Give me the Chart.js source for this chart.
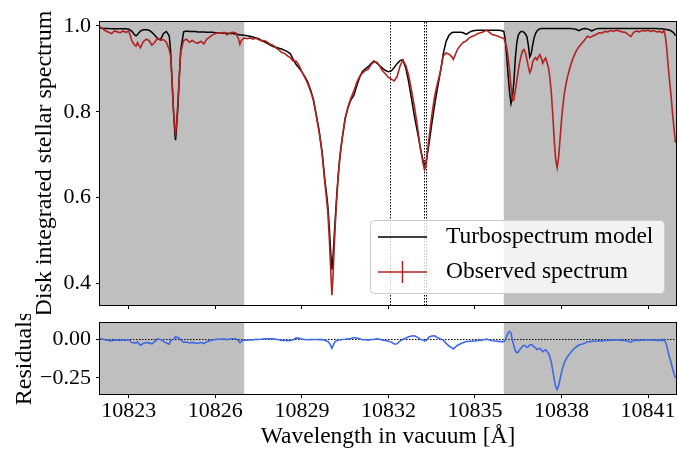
<!DOCTYPE html>
<html>
<head>
<meta charset="utf-8">
<title>He I 10830 disk-integrated spectrum</title>
<script src="https://cdn.jsdelivr.net/npm/chart.js@4.4.1/dist/chart.umd.min.js"></script>
<style>
  html, body { margin: 0; padding: 0; background: #fff; }
  #top { position: absolute; left: 0; top: 0; width: 678px; height: 314px; }
  #bottom { position: absolute; left: 0; top: 314px; width: 678px; height: 141px; }
</style>
</head>
<body>
<div id="top"><canvas id="spec"></canvas></div>
<div id="bottom"><canvas id="resid"></canvas></div>
<script>
// wavelength grid (vacuum, Angstrom)
const wavelength = [
  10822.0, 10822.1, 10822.2, 10822.3, 10822.4, 10822.5, 10822.6, 10822.7, 10822.8, 10822.9,
  10823.0, 10823.1, 10823.2, 10823.25, 10823.3, 10823.4, 10823.5, 10823.6, 10823.7, 10823.8,
  10823.9, 10824.0, 10824.1, 10824.2, 10824.3, 10824.4, 10824.45, 10824.5, 10824.55, 10824.6,
  10824.62, 10824.65, 10824.7, 10824.75, 10824.8, 10824.9, 10825.0, 10825.1, 10825.2, 10825.3,
  10825.4, 10825.5, 10825.6, 10825.7, 10825.8, 10825.9, 10826.0, 10826.1, 10826.2, 10826.3,
  10826.4, 10826.5, 10826.6, 10826.7, 10826.8, 10826.85, 10826.9, 10827.0, 10827.1, 10827.2,
  10827.3, 10827.4, 10827.5, 10827.6, 10827.7, 10827.8, 10827.9, 10828.0, 10828.1, 10828.2,
  10828.3, 10828.4, 10828.5, 10828.6, 10828.7, 10828.8, 10828.9, 10829.0, 10829.1, 10829.2,
  10829.3, 10829.4, 10829.5, 10829.6, 10829.7, 10829.8, 10829.85, 10829.9, 10829.95, 10830.0,
  10830.04, 10830.08, 10830.12, 10830.16, 10830.2, 10830.25, 10830.3, 10830.35, 10830.4, 10830.5,
  10830.6, 10830.7, 10830.8, 10830.9, 10831.0, 10831.1, 10831.2, 10831.3, 10831.4, 10831.5,
  10831.6, 10831.7, 10831.8, 10831.9, 10832.0, 10832.1, 10832.2, 10832.3, 10832.4, 10832.5,
  10832.6, 10832.7, 10832.8, 10832.9, 10833.0, 10833.1, 10833.2, 10833.25, 10833.3, 10833.4,
  10833.5, 10833.6, 10833.7, 10833.8, 10833.9, 10834.0, 10834.1, 10834.2, 10834.25, 10834.3,
  10834.4, 10834.5, 10834.6, 10834.7, 10834.8, 10834.9, 10835.0, 10835.1, 10835.2, 10835.3,
  10835.4, 10835.5, 10835.6, 10835.7, 10835.8, 10835.9, 10836.0, 10836.05, 10836.1, 10836.15,
  10836.2, 10836.25, 10836.3, 10836.35, 10836.4, 10836.45, 10836.5, 10836.55, 10836.6, 10836.65,
  10836.7, 10836.75, 10836.8, 10836.85, 10836.9, 10836.95, 10837.0, 10837.05, 10837.1, 10837.15,
  10837.2, 10837.25, 10837.3, 10837.35, 10837.4, 10837.45, 10837.5, 10837.55, 10837.6, 10837.65,
  10837.7, 10837.75, 10837.8, 10837.85, 10837.9, 10837.95, 10838.0, 10838.05, 10838.1, 10838.15,
  10838.2, 10838.3, 10838.4, 10838.5, 10838.6, 10838.7, 10838.8, 10838.9, 10839.0, 10839.05,
  10839.1, 10839.2, 10839.3, 10839.4, 10839.5, 10839.6, 10839.7, 10839.8, 10839.9, 10840.0,
  10840.1, 10840.2, 10840.3, 10840.4, 10840.5, 10840.6, 10840.7, 10840.8, 10840.9, 10841.0,
  10841.1, 10841.2, 10841.3, 10841.4, 10841.5, 10841.55, 10841.6, 10841.65, 10841.7, 10841.75,
  10841.8, 10841.85, 10841.9, 10841.95
];

// Turbospectrum model flux
const modelFlux = [
  0.995, 0.994, 0.994, 0.994, 0.993, 0.993, 0.993, 0.993, 0.993, 0.993,
  0.992, 0.988, 0.979, 0.977, 0.980, 0.988, 0.991, 0.991, 0.990, 0.985,
  0.978, 0.970, 0.968, 0.982, 0.987, 0.977, 0.940, 0.870, 0.800, 0.745,
  0.734, 0.760, 0.810, 0.880, 0.945, 0.986, 0.988, 0.987, 0.987, 0.987,
  0.986, 0.986, 0.986, 0.985, 0.985, 0.985, 0.984, 0.984, 0.984, 0.983,
  0.983, 0.982, 0.982, 0.981, 0.980, 0.979, 0.979, 0.978, 0.977, 0.976,
  0.974, 0.972, 0.970, 0.966, 0.963, 0.959, 0.955, 0.952, 0.950, 0.948,
  0.946, 0.943, 0.940, 0.935, 0.922, 0.910, 0.902, 0.893, 0.882, 0.870,
  0.851, 0.828, 0.792, 0.755, 0.706, 0.638, 0.612, 0.580, 0.530, 0.472,
  0.432, 0.462, 0.510, 0.555, 0.598, 0.645, 0.685, 0.715, 0.740, 0.785,
  0.810, 0.828, 0.838, 0.860, 0.880, 0.894, 0.900, 0.905, 0.912, 0.918,
  0.913, 0.907, 0.901, 0.896, 0.893, 0.895, 0.903, 0.912, 0.919, 0.921,
  0.902, 0.870, 0.830, 0.790, 0.755, 0.718, 0.686, 0.677, 0.682, 0.722,
  0.770, 0.815, 0.855, 0.892, 0.935, 0.964, 0.978, 0.984, 0.985, 0.985,
  0.985, 0.985, 0.984, 0.980, 0.985, 0.988, 0.989, 0.990, 0.990, 0.990,
  0.990, 0.990, 0.990, 0.990, 0.990, 0.989, 0.987, 0.968, 0.930, 0.885,
  0.845, 0.819, 0.835, 0.870, 0.925, 0.960, 0.978, 0.984, 0.987, 0.987,
  0.985, 0.981, 0.975, 0.955, 0.928, 0.935, 0.955, 0.972, 0.982, 0.988,
  0.991, 0.993, 0.994, 0.994, 0.994, 0.994, 0.994, 0.994, 0.994, 0.994,
  0.994, 0.994, 0.994, 0.994, 0.994, 0.994, 0.994, 0.994, 0.994, 0.994,
  0.994, 0.994, 0.993, 0.992, 0.989, 0.992, 0.994, 0.993, 0.990, 0.988,
  0.990, 0.993, 0.994, 0.994, 0.994, 0.994, 0.994, 0.994, 0.994, 0.994,
  0.994, 0.994, 0.994, 0.994, 0.994, 0.994, 0.994, 0.994, 0.994, 0.994,
  0.994, 0.994, 0.994, 0.993, 0.993, 0.992, 0.992, 0.991, 0.991, 0.990,
  0.988, 0.986, 0.983, 0.977
];

// observed disk-integrated flux
const observedFlux = [
  0.998, 0.993, 0.988, 0.985, 0.982, 0.988, 0.986, 0.984, 0.988, 0.985,
  0.988, 0.966, 0.955, 0.953, 0.961, 0.949, 0.963, 0.969, 0.966, 0.955,
  0.962, 0.972, 0.966, 0.968, 0.962, 0.945, 0.930, 0.865, 0.800, 0.757,
  0.750, 0.770, 0.822, 0.885, 0.940, 0.966, 0.969, 0.962, 0.966, 0.961,
  0.960, 0.964, 0.958, 0.969, 0.974, 0.979, 0.982, 0.984, 0.983, 0.985,
  0.979, 0.983, 0.985, 0.984, 0.970, 0.957, 0.966, 0.972, 0.970, 0.972,
  0.969, 0.971, 0.968, 0.965, 0.966, 0.962, 0.957, 0.955, 0.949, 0.944,
  0.938, 0.936, 0.930, 0.926, 0.918, 0.918, 0.908, 0.893, 0.880, 0.866,
  0.848, 0.826, 0.790, 0.752, 0.703, 0.632, 0.600, 0.565, 0.505, 0.430,
  0.373, 0.420, 0.485, 0.540, 0.588, 0.640, 0.680, 0.712, 0.738, 0.784,
  0.812, 0.832, 0.848, 0.868, 0.882, 0.890, 0.896, 0.899, 0.910, 0.916,
  0.915, 0.906, 0.895, 0.888, 0.880, 0.876, 0.872, 0.882, 0.906, 0.920,
  0.908, 0.885, 0.850, 0.812, 0.768, 0.718, 0.680, 0.665, 0.672, 0.735,
  0.790, 0.836, 0.866, 0.893, 0.930, 0.937, 0.934, 0.928, 0.922, 0.930,
  0.946, 0.955, 0.962, 0.965, 0.972, 0.975, 0.978, 0.982, 0.984, 0.986,
  0.990, 0.985, 0.980, 0.978, 0.976, 0.973, 0.971, 0.962, 0.950, 0.925,
  0.895, 0.858, 0.826, 0.828, 0.850, 0.872, 0.895, 0.915, 0.930, 0.942,
  0.945, 0.937, 0.922, 0.905, 0.891, 0.898, 0.916, 0.922, 0.926, 0.921,
  0.928, 0.933, 0.925, 0.913, 0.920, 0.925, 0.914, 0.902, 0.878, 0.842,
  0.790, 0.732, 0.688, 0.670, 0.694, 0.736, 0.780, 0.815, 0.843, 0.862,
  0.879, 0.904, 0.925, 0.940, 0.951, 0.959, 0.967, 0.976, 0.973, 0.975,
  0.977, 0.980, 0.984, 0.983, 0.987, 0.986, 0.989, 0.987, 0.990, 0.988,
  0.986, 0.985, 0.981, 0.975, 0.985, 0.988, 0.986, 0.989, 0.988, 0.990,
  0.987, 0.989, 0.986, 0.987, 0.984, 0.990, 0.976, 0.947, 0.906, 0.870,
  0.836, 0.796, 0.762, 0.728
];

const maskedRanges = [[10822.0, 10827.0], [10836.0, 10841.97]];
const heliumLines = [10832.057, 10833.217, 10833.306];
const xTicks = [10823, 10826, 10829, 10832, 10835, 10838, 10841];
const specTicks = [0.4, 0.6, 0.8, 1.0];
const residTicks = [-0.25, 0.0];

const xMin = 10822.0, xMax = 10841.97;
const RED = 'rgb(178,34,34)';
const BLUE = 'rgb(65,105,225)';

Chart.defaults.font.family = "'Liberation Serif', 'Times New Roman', serif";
Chart.defaults.color = '#000';

// residual = observed - model
const residual = observedFlux.map((f, i) => f - modelFlux[i]);
const pts = arr => wavelength.map((w, i) => ({x: w, y: arr[i]}));

// keep tick labels from pushing the plot area around
function noLabelPadding(s) {
  s.paddingTop = 0; s.paddingBottom = 0;
  s.paddingLeft = 0; s.paddingRight = 0;
}

function shadeMasked(chart) {
  const {ctx, chartArea: a, scales: {x}} = chart;
  ctx.save();
  ctx.fillStyle = 'rgba(128,128,128,0.5)';
  maskedRanges.forEach(([lo, hi]) => {
    const x0 = Math.max(a.left, x.getPixelForValue(lo));
    const x1 = Math.min(a.right, x.getPixelForValue(hi));
    ctx.fillRect(x0, a.top, x1 - x0, a.bottom - a.top);
  });
  ctx.restore();
}

function drawFrame(chart) {
  const {ctx, chartArea: a} = chart;
  ctx.save();
  ctx.strokeStyle = '#000';
  ctx.lineWidth = 1;
  ctx.strokeRect(Math.round(a.left) - 0.5, Math.round(a.top) - 0.5,
    Math.round(a.right - a.left) + 1, Math.round(a.bottom - a.top) + 1);
  ctx.restore();
}

function xScale(withLabels) {
  return {
    type: 'linear',
    min: xMin,
    max: xMax,
    afterBuildTicks: s => { s.ticks = xTicks.map(v => ({value: v})); },
    ticks: {
      display: withLabels, autoSkip: false, maxRotation: 0, padding: 0,
      font: {size: 22}, color: '#000', callback: v => String(v)
    },
    grid: {drawOnChartArea: false, drawTicks: true, tickLength: 4, color: '#000'},
    border: {display: false},
    title: {
      display: withLabels, text: 'Wavelength in vacuum [\u00c5]',
      font: {size: 23.5}, padding: {top: 0, bottom: 4}
    },
    afterFit: s => { noLabelPadding(s); s.height = withLabels ? 61 : 9; }
  };
}

const specPlugin = {
  id: 'specDecor',
  beforeDatasetsDraw(chart) {
    shadeMasked(chart);
    const {ctx, chartArea: a, scales: {x}} = chart;
    ctx.save();
    ctx.strokeStyle = '#000';
    ctx.lineWidth = 1;
    ctx.setLineDash([1.5, 1.5]);
    heliumLines.forEach(w => {
      const px = Math.round(x.getPixelForValue(w)) + 0.5;
      ctx.beginPath();
      ctx.moveTo(px, a.top);
      ctx.lineTo(px, a.bottom);
      ctx.stroke();
    });
    ctx.restore();
  },
  afterDatasetsDraw(chart) { drawFrame(chart); },
  afterDraw(chart) {
    const {ctx, chartArea: a} = chart;
    const w = 294, h = 73, pad = 12;
    const x0 = a.right - pad - w, y0 = a.bottom - pad - h;
    ctx.save();
    ctx.beginPath();
    ctx.roundRect(x0 + 0.5, y0 + 0.5, w, h, 4);
    ctx.fillStyle = 'rgba(255,255,255,0.8)';
    ctx.fill();
    ctx.strokeStyle = '#cccccc';
    ctx.lineWidth = 1;
    ctx.stroke();
    const rows = [chart.data.datasets[1], chart.data.datasets[0]];
    ctx.font = "23.5px 'Liberation Serif', 'Times New Roman', serif";
    ctx.textBaseline = 'middle';
    ctx.textAlign = 'left';
    rows.forEach((ds, i) => {
      const cy = y0 + 17 + i * 35;
      ctx.strokeStyle = ds.borderColor;
      ctx.lineWidth = 1.5;
      ctx.beginPath();
      ctx.moveTo(x0 + 8, cy);
      ctx.lineTo(x0 + 57, cy);
      if (ds.errorMarker) {
        ctx.moveTo(x0 + 32.5, cy - 11);
        ctx.lineTo(x0 + 32.5, cy + 11);
      }
      ctx.stroke();
      ctx.fillStyle = '#000';
      ctx.fillText(ds.label, x0 + 76, cy);
    });
    ctx.restore();
  }
};

new Chart(document.getElementById('spec'), {
  type: 'line',
  data: {
    datasets: [
      {label: 'Observed spectrum', data: pts(observedFlux), borderColor: RED,
       borderWidth: 1.6, pointRadius: 0, order: 1, errorMarker: true},
      {label: 'Turbospectrum model', data: pts(modelFlux), borderColor: '#000',
       borderWidth: 1.5, pointRadius: 0, order: 2}
    ]
  },
  options: {
    responsive: true,
    maintainAspectRatio: false,
    animation: false,
    devicePixelRatio: 1,
    layout: {padding: {top: 22, right: 2, left: 0, bottom: 0}},
    plugins: {legend: {display: false}, tooltip: {enabled: false}},
    scales: {
      x: xScale(false),
      y: {
        min: 0.35,
        max: 1.009,
        afterBuildTicks: s => { s.ticks = specTicks.map(v => ({value: v})); },
        ticks: {font: {size: 22}, padding: 5, color: '#000', callback: v => v.toFixed(1)},
        grid: {drawOnChartArea: false, tickLength: 4, color: '#000'},
        border: {display: false},
        title: {display: true, text: 'Disk integrated stellar spectrum',
                font: {size: 24}, padding: {top: 30, bottom: 0}},
        afterFit: s => { noLabelPadding(s); s.width = 100; }
      }
    }
  },
  plugins: [specPlugin]
});

const residPlugin = {
  id: 'residDecor',
  beforeDatasetsDraw(chart) {
    shadeMasked(chart);
    const {ctx, chartArea: a, scales: {y}} = chart;
    const py = Math.round(y.getPixelForValue(0)) + 0.5;
    ctx.save();
    ctx.strokeStyle = '#000';
    ctx.lineWidth = 1;
    ctx.setLineDash([1.5, 1.5]);
    ctx.beginPath();
    ctx.moveTo(a.left, py);
    ctx.lineTo(a.right, py);
    ctx.stroke();
    ctx.restore();
  },
  afterDatasetsDraw(chart) { drawFrame(chart); }
};

new Chart(document.getElementById('resid'), {
  type: 'line',
  data: {
    datasets: [
      {label: 'Residuals', data: pts(residual), borderColor: BLUE,
       borderWidth: 1.6, pointRadius: 0}
    ]
  },
  options: {
    responsive: true,
    maintainAspectRatio: false,
    animation: false,
    devicePixelRatio: 1,
    layout: {padding: {top: 9, right: 2, left: 0, bottom: 0}},
    plugins: {legend: {display: false}, tooltip: {enabled: false}},
    scales: {
      x: xScale(true),
      y: {
        min: -0.353,
        max: 0.104,
        afterBuildTicks: s => { s.ticks = residTicks.map(v => ({value: v})); },
        ticks: {font: {size: 22}, padding: 5, color: '#000',
                callback: v => (v < 0 ? '\u2212' : '') + Math.abs(v).toFixed(2)},
        grid: {drawOnChartArea: false, tickLength: 4, color: '#000'},
        border: {display: false},
        title: {display: true, text: 'Residuals', font: {size: 24},
                padding: {top: 10, bottom: 0}},
        afterFit: s => { noLabelPadding(s); s.width = 100; }
      }
    }
  },
  plugins: [residPlugin]
});
</script>
</body>
</html>
